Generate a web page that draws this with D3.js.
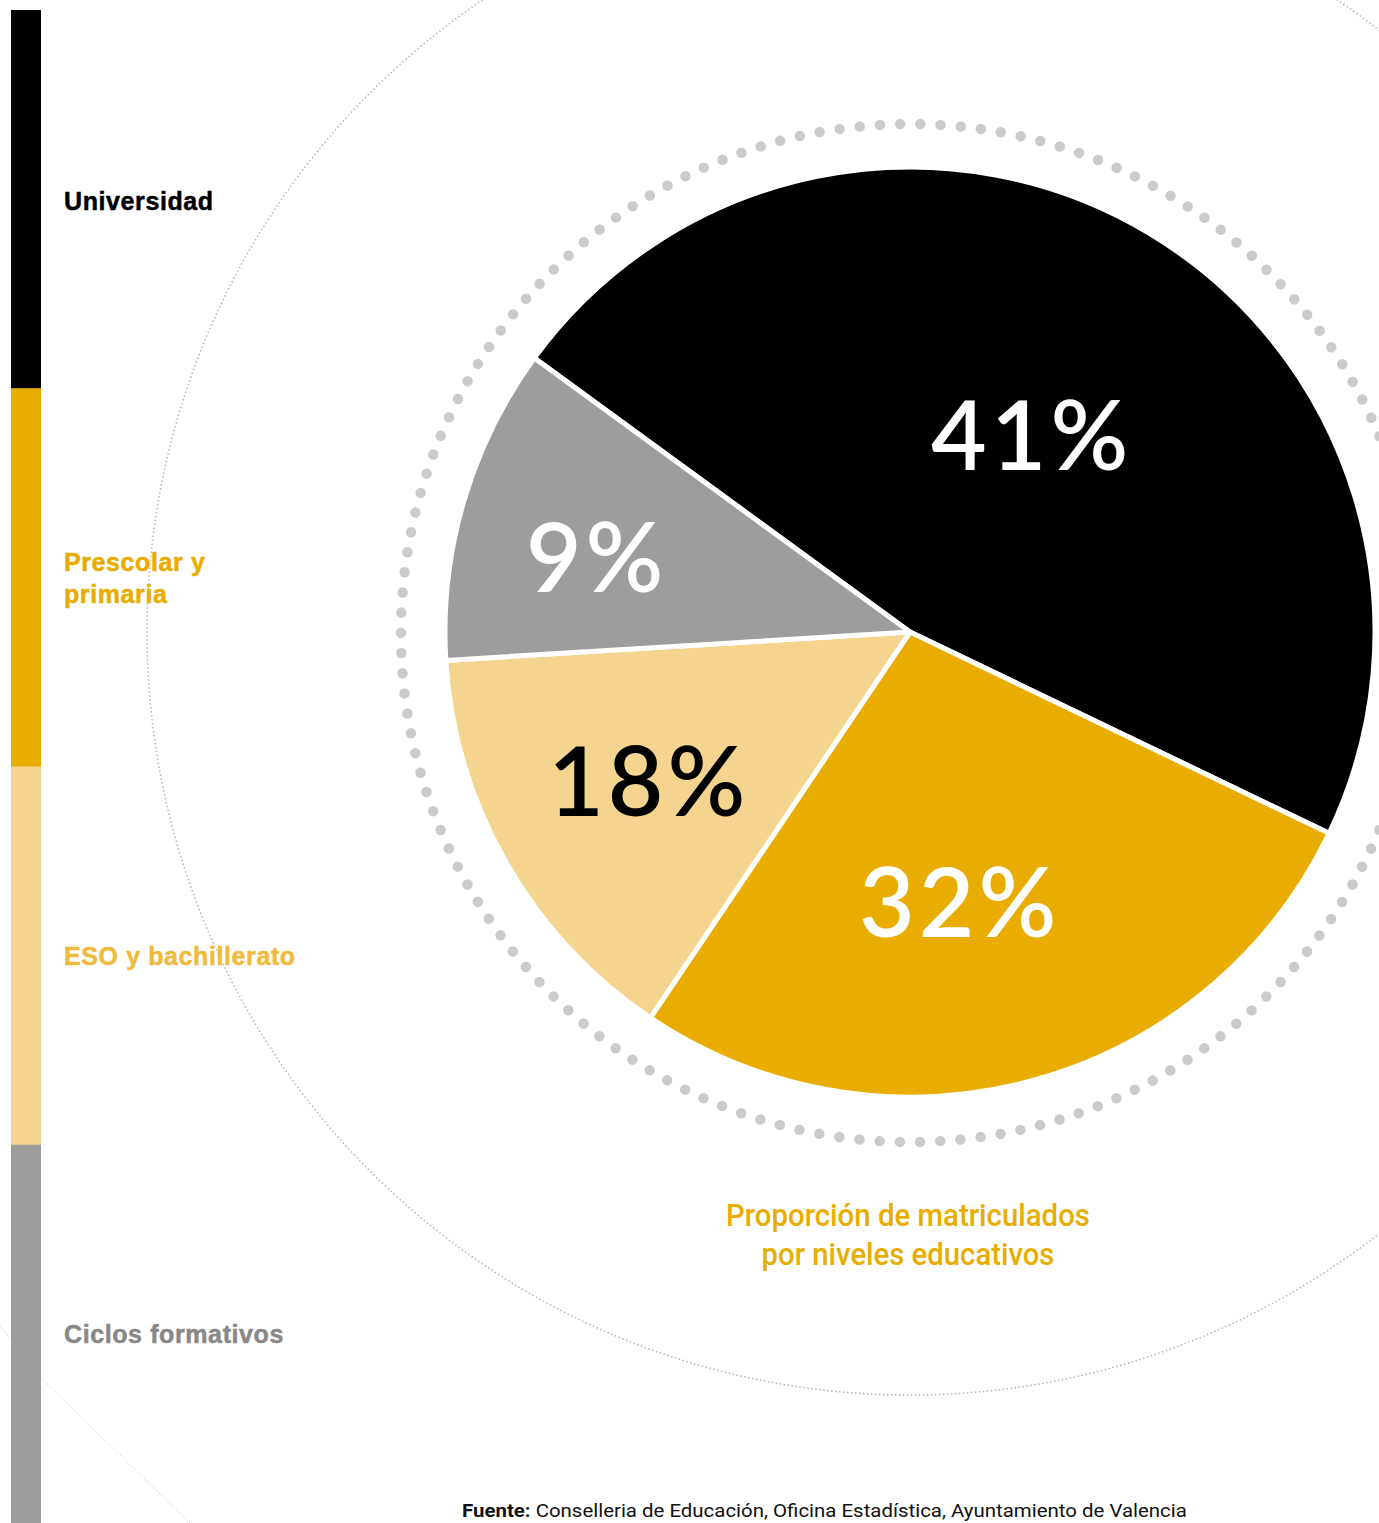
<!DOCTYPE html>
<html><head><meta charset="utf-8">
<script src="https://cdn.jsdelivr.net/npm/d3@7"></script>
<style>html,body{margin:0;padding:0;background:#fff;overflow:hidden}</style>
</head><body><svg id="c" width="1379" height="1523"></svg>
<script>
// ---- data ----
const categories = ["Universidad", "Prescolar y primaria", "ESO y bachillerato", "Ciclos formativos"];
const percentLabels = [41, 32, 18, 9];            // printed values
const drawnShares = [47.1, 27.3, 14.6, 11.0];      // slice sizes as drawn in the picture
const legendLines = [["Universidad"], ["Prescolar y", "primaria"], ["ESO y bachillerato"], ["Ciclos formativos"]];
const titleLines = ["Proporción de matriculados", "por niveles educativos"];
const sourceBold = "Fuente:";
const sourceText = " Conselleria de Educación, Oficina Estadística, Ayuntamiento de Valencia";

// ---- style / layout ----
const sliceColors = ["#000000", "#e8ad00", "#f5d48f", "#9d9d9b"];
const legendText = ["#000000", "#e8ad00", "#f0bb3c", "#888888"];
const pctColors = ["#ffffff", "#ffffff", "#000000", "#ffffff"];
const labelRadius = [231, 275, 301, 322];
const labelAngleShift = [0.9, 4.8, 0, -3]; // degrees
const cx = 910, cy = 632, R = 465;

const svg = d3.select("#c");

// outer thin dotted circle
svg.append("circle").attr("cx", cx).attr("cy", cy).attr("r", 763)
  .attr("fill", "none").attr("stroke", "#b5b5b5").attr("stroke-width", 1.5)
  .attr("stroke-dasharray", "1.5 2.5");
// thin diagonal at bottom-left
svg.append("path").attr("d", d3.line()([[0, 1326], [41, 1378], [190, 1523]]))
  .attr("fill", "none").attr("stroke", "#c4c4c4").attr("stroke-width", 1)
  .attr("stroke-dasharray", "1 2");

// dotted ring
svg.append("circle").attr("cx", cx).attr("cy", cy + 1).attr("r", 509)
  .attr("fill", "none").attr("stroke", "#cbcbcb").attr("stroke-width", 10.5)
  .attr("stroke-linecap", "round").attr("stroke-dasharray", "0 " + (2 * Math.PI * 509 / 158));

// pie
const start = -53.9 * Math.PI / 180;
const pie = d3.pie().sort(null).value(d => d).startAngle(start).endAngle(start + 2 * Math.PI);
const arcs = pie(drawnShares);
const arc = d3.arc().innerRadius(0).outerRadius(R);
const g = svg.append("g").attr("transform", `translate(${cx},${cy})`);
g.selectAll("path.s").data(arcs).join("path").attr("class", "s")
  .attr("d", arc).attr("fill", (d, i) => sliceColors[i])
  .attr("stroke", "#fff").attr("stroke-width", 5).attr("stroke-linejoin", "round");

const labAng = (d, i) => (d.startAngle + d.endAngle) / 2 + labelAngleShift[i] * Math.PI / 180;
g.selectAll("text.p").data(arcs).join("text").attr("class", "p")
  .attr("x", (d, i) => labelRadius[i] * Math.sin(labAng(d, i)))
  .attr("y", (d, i) => -labelRadius[i] * Math.cos(labAng(d, i)))
  .attr("dy", "0.36em").attr("text-anchor", "middle")
  .attr("font-family", "Lato, 'Open Sans', sans-serif").attr("font-weight", 600)
  .attr("font-size", 96).attr("letter-spacing", 4).attr("fill", (d, i) => pctColors[i])
  .text((d, i) => percentLabels[i] + "%");

// legend bar
const band = d3.scaleBand().domain(categories).range([10, 1523]);
svg.selectAll("rect.lg").data(categories).join("rect").attr("class", "lg")
  .attr("x", 11).attr("width", 30).attr("y", d => band(d)).attr("height", band.bandwidth() + 0.5)
  .attr("fill", (d, i) => sliceColors[i]);

const legendBase = [210, 571, 965, 1343];
categories.forEach((c, i) => {
  const t = svg.append("text").attr("x", 64).attr("y", legendBase[i])
    .attr("font-family", "'Liberation Sans', Arial, sans-serif").attr("font-weight", 700)
    .attr("font-size", 25).attr("letter-spacing", 0.6).attr("fill", legendText[i])
    .attr("stroke", legendText[i]).attr("stroke-width", 0.5);
  legendLines[i].forEach((l, j) => t.append("tspan").attr("x", 64).attr("dy", j ? 32 : 0).text(l));
});

// helper: horizontally condense a text to a target width around an anchor
function condense(sel, targetW, ax) {
  const w = sel.node().getBBox().width;
  const s = targetW / w;
  sel.attr("transform", `translate(${ax},0) scale(${s},1) translate(${-ax},0)`);
}

// title
titleLines.forEach((l, j) => {
  const t = svg.append("text").attr("x", 908).attr("y", 1226 + j * 39).attr("text-anchor", "middle")
    .attr("font-family", "Roboto, sans-serif").attr("font-weight", 500)
    .attr("font-size", 32).attr("fill", "#e8ad00").text(l);
  condense(t, j ? 293 : 364, 908);
});

// source
const st = svg.append("text").attr("x", 462).attr("y", 1517)
  .attr("font-family", "Roboto, sans-serif").attr("font-size", 19).attr("fill", "#111");
st.append("tspan").attr("font-weight", 700).text(sourceBold);
st.append("tspan").text(sourceText);
condense(st, 725, 462);
</script></body></html>
